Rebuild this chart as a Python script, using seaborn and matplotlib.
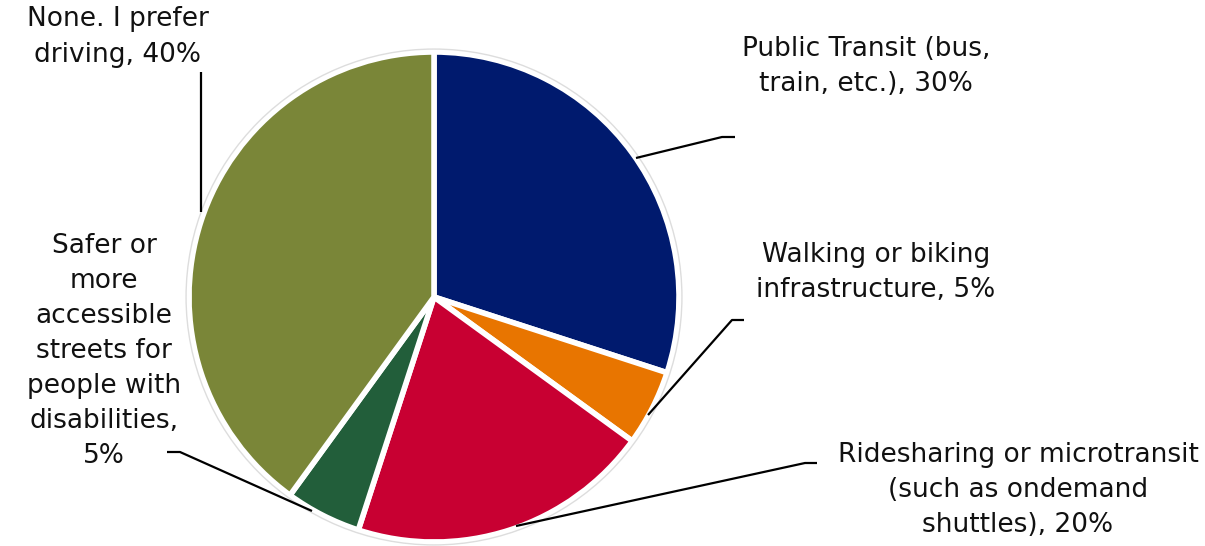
import matplotlib
matplotlib.use("Agg")
import matplotlib.pyplot as plt
import seaborn as sns
from matplotlib.patches import Circle

categories = [
    "Public Transit (bus,\ntrain, etc.)",
    "Walking or biking\ninfrastructure",
    "Ridesharing or microtransit\n(such as ondemand\nshuttles)",
    "Safer or\nmore\naccessible\nstreets for\npeople with\ndisabilities,\n",
    "None. I prefer\ndriving",
]
values = [30, 5, 20, 5, 40]
colors = ["#001A6E", "#E87500", "#C80032", "#225E3A", "#7A8638"]

sns.set_theme(style="white")
plt.rcParams["font.family"] = ["DejaVu Sans"]

W, H = 1205, 546
fig = plt.figure(figsize=(W / 100, H / 100), dpi=100)
ax = fig.add_axes([0, 0, 1, 1])
R = 245.0
CX, CY = 434.0, 297.0


def px(x, y):
    return ((x - CX) / R, (CY - y) / R)


ax.pie(values, colors=colors, startangle=90, counterclock=False, radius=1.0,
       wedgeprops=dict(edgecolor="white", linewidth=4), center=(0, 0), frame=True)
ax.set_xlim(-CX / R, (W - CX) / R)
ax.set_ylim(-(H - CY) / R, CY / R)
ax.set_aspect("equal")
ax.axis("off")
ax.add_patch(Circle((0, 0), 1.012, fill=False, edgecolor="#DDDDDD", linewidth=1))

labels = [f"{c}, {v}%" if not c.endswith("\n") else f"{c}{v}%" for c, v in zip(categories, values)]

# layout: label centre, leader polyline (pixel coordinates)
layout = [
    ((866, 66), [(735, 137), (722, 137), (636, 158)]),
    ((876, 272), [(744, 320), (732, 320), (648, 415)]),
    ((1018, 490), [(817, 463), (805, 463), (516, 526)]),
    ((104, 351), [(167, 452), (180, 452), (312, 511)]),
    ((118, 37), [(201, 72), (201, 212)]),
]

for lab, (tpos, line) in zip(labels, layout):
    tx, ty = px(*tpos)
    ax.text(tx, ty, lab, ha="center", va="center", fontsize=19,
            color="#111111", linespacing=1.45)
    xs, ys = zip(*[px(*p) for p in line])
    ax.plot(xs, ys, color="black", linewidth=1.6, solid_capstyle="butt")

fig.savefig("out.png", dpi=100)
